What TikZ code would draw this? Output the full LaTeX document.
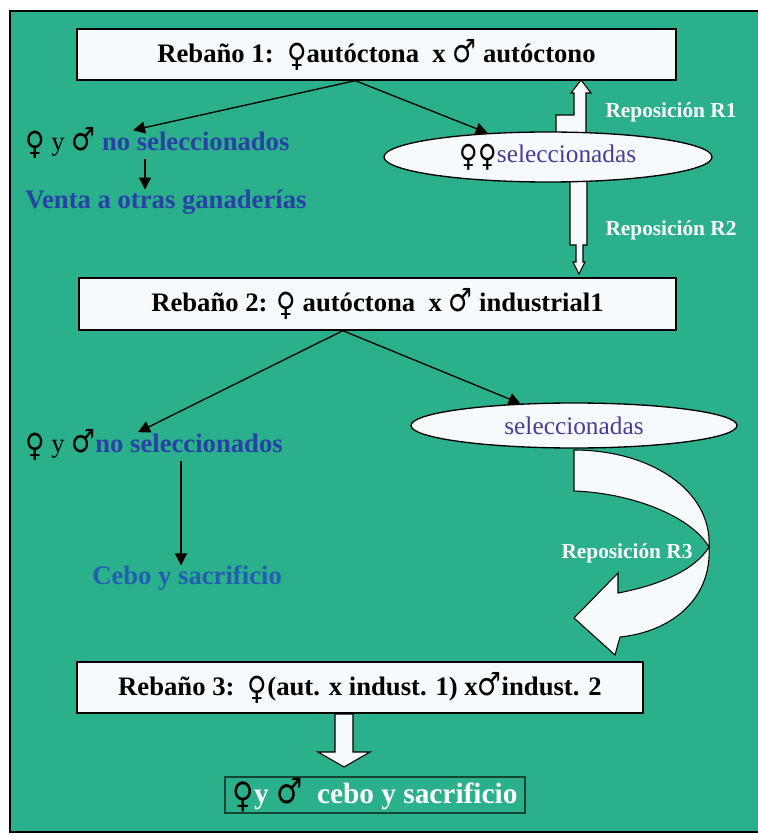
\documentclass[tikz,border=0pt]{standalone}
\usepackage{fontspec}
\setmainfont{Liberation Serif}
\newfontfamily\symf{DejaVu Sans}
\usetikzlibrary{arrows.meta}
\usetikzlibrary{calc}
\usetikzlibrary{shapes.geometric}

\definecolor{fondo}{RGB}{42,176,139}
\definecolor{azul}{RGB}{40,66,165}
\definecolor{violeta}{RGB}{72,62,150}
\definecolor{blanco}{RGB}{246,250,252}
\definecolor{verdeosc}{RGB}{20,70,50}

\newcommand{\hembra}{\raisebox{-0.15em}{\scalebox{1}[1.2]{\symf\mdseries\char"2640}}}
\newcommand{\macho}{\scalebox{1}[1.2]{\symf\mdseries\char"2642}}

\begin{document}
\begin{tikzpicture}[x=0.75pt, y=-0.75pt,
    caja/.style={draw, line width=1pt, fill=blanco, minimum height=38.25pt, inner sep=0pt, font=\fontsize{20}{23}\selectfont\bfseries},
    elipse/.style={ellipse, draw, line width=1pt, fill=blanco, inner sep=0pt, font=\fontsize{19}{22}\selectfont},
    flecha/.style={-{Triangle[length=9pt,width=9pt]}, line width=1pt},
    bloque/.style={draw, line width=0.8pt, fill=blanco},
    texto/.style={anchor=west, inner sep=0pt, font=\fontsize{20}{23}\selectfont\bfseries},
    repo/.style={text=white, inner sep=0pt, font=\fontsize{16}{18}\selectfont\bfseries}]

  \useasboundingbox (0,0) rectangle (757,837);
  \draw[line width=2pt, fill=fondo] (10,11) rectangle (760,832);

  % reposicion R1 y R2
  \draw[bloque] (556,138) -- (556,115) -- (574,115) -- (574,93) -- (571,93) -- (581,80) -- (591,93) -- (586,93) -- (586,138) -- cycle;
  \draw[bloque] (570,176) -- (587,176) -- (587,245) -- (583,245) -- (583,262) -- (585,262) -- (579,274) -- (573,262) -- (576,262) -- (576,245) -- (570,245) -- cycle;

  % rebanos
  \node[caja, minimum width=449.25pt] (r1) at (376.5,54.5) {Rebaño 1:\ \ \hembra autóctona\ \ x \macho\ autóctono};
  \node[caja, minimum width=447.75pt, minimum height=39pt] (r2) at (377.5,304) {Rebaño 2: \hembra\ autóctona\ \ x \macho\ industrial1};
  \node[caja, minimum width=424.5pt] (r3) at (360,687.5) {Rebaño 3:\ \ \hembra(aut. x indust. 1) x\macho indust. 2};

  % seleccionadas
  \node[elipse, minimum width=246pt, minimum height=37.5pt] (sel1) at (548,157) {\hembra\hembra\textcolor{violeta}{seleccionadas}};
  \node[elipse, minimum width=244.5pt, minimum height=33.75pt] (sel2) at (574,425.5) {\textcolor{violeta}{seleccionadas}};

  % no seleccionados
  \node[texto] (nosel1) at (25,143) {\hembra\ {\mdseries y} \macho\ \textcolor{azul}{no seleccionados}};
  \node[texto, text=azul] (venta) at (25,202) {Venta a otras ganaderías};
  \node[texto] (nosel2) at (25,445) {\hembra\ {\mdseries y} \macho\textcolor{azul}{no seleccionados}};
  \node[texto, text=azul!85!cyan] (cebo) at (92,578) {Cebo y sacrificio};

  \draw[flecha] ([xshift=-16pt]r1.south) -- ($(nosel1.north west)+(108,3)$);
  \draw[flecha] ([xshift=-16pt]r1.south) -- (sel1);
  \draw[flecha] ($(nosel1.south west)+(120,0)$) coordinate (v1) -- (venta.north -| v1);
  \draw[flecha] ([xshift=-26pt]r2.south) -- ($(nosel2.north west)+(113,3)$);
  \draw[flecha] ([xshift=-26pt]r2.south) -- (sel2);
  \draw[flecha] ($(nosel2.south west)+(156,0)$) coordinate (v2) -- (cebo.north -| v2);

  % reposicion R3
  \draw[bloque] (574,450) .. controls (650,450) and (712,490) .. (709,547)
    .. controls (690,515) and (630,493) .. (574,491) -- cycle;
  \draw[bloque] (709,547) .. controls (712,600) and (670,632) .. (620,637) -- (615,655) -- (574,618) -- (618,573) -- (618,593)
    .. controls (660,585) and (695,570) .. (709,547) -- cycle;

  \node[repo] (rep1) at (671,112) {Reposición R1};
  \node[repo] (rep2) at (671,230) {Reposición R2};
  \node[repo] (rep3) at (627,553) {Reposición R3};

  % salida
  \draw[bloque] (335,714) -- (353,714) -- (353,752) -- (370,752) -- (344,767) -- (318,752) -- (335,752) -- cycle;
  \node[draw=verdeosc, line width=1pt, fill=fondo, minimum width=225pt, minimum height=27pt, inner sep=0pt, font=\fontsize{22}{25}\selectfont\bfseries] (fin) at (375,795)
    {\hembra\textcolor{white}{y}\ \macho\ \ \textcolor{white}{cebo y sacrificio}};
\end{tikzpicture}
\end{document}
